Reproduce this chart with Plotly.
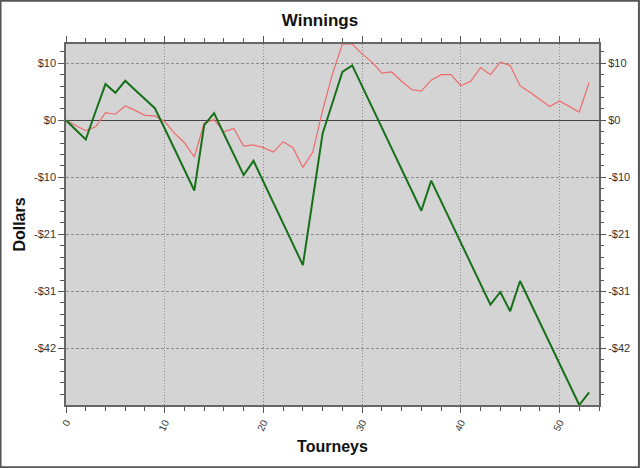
import plotly.graph_objects as go

# Tourney numbers and cumulative winnings
tourneys = list(range(54))

green_winnings = [
    0, -1.7, -3.5, 1.6, 6.6, 5.0, 7.2, 5.5, 3.9, 2.2,
    -1.5, -5.3, -9.0, -12.8, -0.9, 1.3, -2.5, -6.2, -10.0, -7.4,
    -11.2, -15.0, -18.8, -22.6, -26.4, -14.4, -2.4, 3.2, 8.8, 10.0,
    6.2, 2.4, -1.4, -5.1, -8.9, -12.7, -16.5, -11.0, -14.8, -18.5,
    -22.3, -26.0, -29.8, -33.6, -31.3, -34.8, -29.3, -33.1, -36.8, -40.6,
    -44.4, -48.1, -51.9, -49.6,
]

red_winnings = [
    0, -1.0, -1.9, -1.2, 1.4, 1.1, 2.6, 1.8, 0.9, 0.8,
    -0.2, -2.4, -4.1, -6.7, -0.5, 0.1, -2.1, -1.5, -4.7, -4.5,
    -5.0, -5.8, -3.9, -5.0, -8.6, -5.8, 1.8, 8.5, 13.9, 13.9,
    12.1, 10.6, 8.6, 8.8, 7.1, 5.6, 5.3, 7.3, 8.3, 8.3,
    6.3, 7.1, 9.6, 8.3, 10.6, 10.0, 6.3, 5.1, 3.8, 2.5,
    3.5, 2.5, 1.5, 6.9,
]

y_tickvals = [10.4, 0, -10.4, -20.8, -31.2, -41.6]
y_ticktext = ["$10", "$0", "-$10", "-$21", "-$31", "-$42"]
x_tickvals = [0, 10, 20, 30, 40, 50]

fig = go.Figure()

fig.add_trace(go.Scatter(
    x=tourneys, y=red_winnings, mode="lines",
    line=dict(color="#f06a6a", width=1.2),
    showlegend=False, hoverinfo="skip",
))
fig.add_trace(go.Scatter(
    x=tourneys, y=green_winnings, mode="lines",
    line=dict(color="#17701a", width=2),
    showlegend=False, hoverinfo="skip",
))
# invisible trace so the right-hand axis gets drawn
fig.add_trace(go.Scatter(
    x=[tourneys[0]], y=[0], yaxis="y2", mode="markers",
    marker=dict(opacity=0), showlegend=False, hoverinfo="skip",
))

font_name = "Liberation Sans, Arial"
axis_font = dict(family=font_name, size=11, color="#333333")
yrange = [-51.9, 13.9]
y_minor = dict(tickmode="linear", tick0=0, dtick=2.08, ticks="outside",
               ticklen=4, tickcolor="#555555", showgrid=False)

fig.update_layout(
    width=640, height=468,
    margin=dict(l=66, r=41, t=44, b=63),
    paper_bgcolor="white",
    plot_bgcolor="#d4d4d4",
    title=dict(
        text="<b>Winnings</b>", x=0.5, xanchor="center",
        yref="container", y=0.97, yanchor="top",
        font=dict(family=font_name, size=17, color="#111111"),
    ),
    xaxis=dict(
        range=[0, 54], automargin=False,
        tickmode="array", tickvals=x_tickvals, tickangle=-65,
        tickfont=dict(family=font_name, size=10, color="#333333"),
        ticks="outside", ticklen=6, tickcolor="#555555",
        minor=dict(tickmode="linear", tick0=0, dtick=2, ticks="outside",
                   ticklen=4, tickcolor="#555555", showgrid=False),
        showline=True, linecolor="#666666", linewidth=1.5, mirror="ticks",
        showgrid=True, gridcolor="#8c8c8c", griddash="1px,2px", gridwidth=1,
        zeroline=False,
        title=dict(text="<b>Tourneys</b>", standoff=9,
                   font=dict(family=font_name, size=16, color="#111111")),
    ),
    yaxis=dict(
        range=yrange, automargin=False,
        tickmode="array", tickvals=y_tickvals, ticktext=y_ticktext,
        tickfont=axis_font,
        ticks="outside", ticklen=6, tickcolor="#555555",
        minor=y_minor,
        showline=True, linecolor="#666666", linewidth=1.5, mirror=True,
        showgrid=True, gridcolor="#8c8c8c", griddash="3px,2px", gridwidth=1,
        zeroline=True, zerolinecolor="#444444", zerolinewidth=1.2,
        title=dict(text="<b>Dollars</b>", standoff=4,
                   font=dict(family=font_name, size=16, color="#111111")),
    ),
    yaxis2=dict(
        range=yrange, overlaying="y", side="right", matches="y", automargin=False,
        tickmode="array", tickvals=y_tickvals, ticktext=y_ticktext,
        tickfont=axis_font,
        ticks="outside", ticklen=6, tickcolor="#555555",
        minor=y_minor,
        showgrid=False, zeroline=False, showline=False,
    ),
    shapes=[dict(
        type="rect", xref="paper", yref="paper",
        x0=-66 / 533 + 0.001, x1=1 + 41 / 533 - 0.002,
        y0=-63 / 361 + 0.002, y1=1 + 44 / 361 - 0.002,
        line=dict(color="#555555", width=2), layer="below",
    )],
)

# drop the browser's default page margin so the chart sits at the window corner
fig.write_html(
    "out.html",
    config={"displayModeBar": False},
    post_script="document.body.style.margin = '0';",
)
